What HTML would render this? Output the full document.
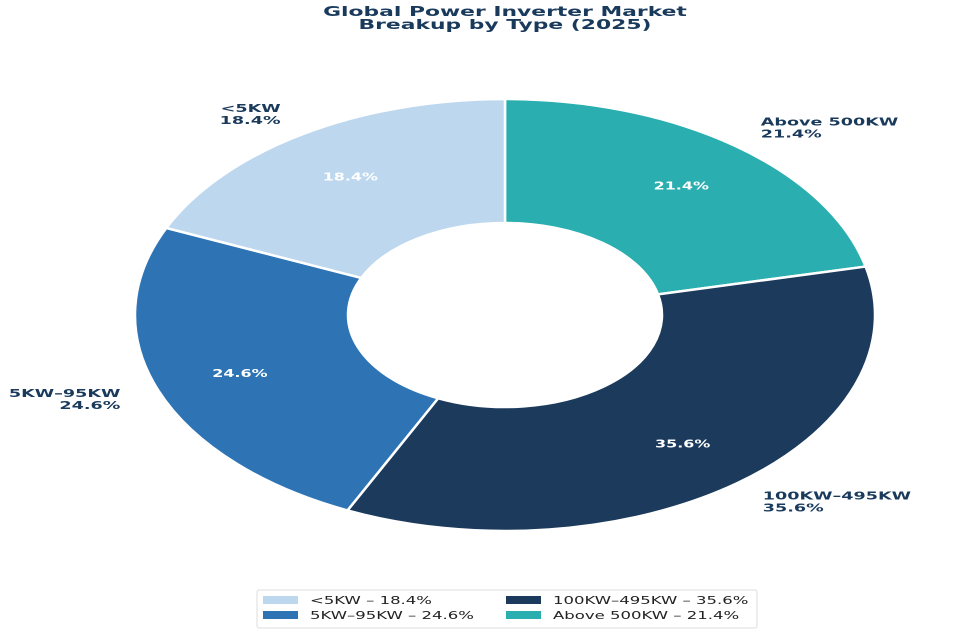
<!DOCTYPE html>
<html><head><meta charset="utf-8"><style>
html,body{margin:0;padding:0;background:#fff;}
svg{display:block;font-family:"DejaVu Sans","Liberation Sans",sans-serif;}
</style></head><body>
<svg id="chart" width="980" height="631" viewBox="0 0 980 631">
<g fill="#1a3a5c" font-weight="bold" font-size="13" text-anchor="middle">
<text transform="translate(505,16) scale(1.68,1)">Global Power Inverter Market</text>
<text transform="translate(505,29) scale(1.68,1)">Breakup by Type (2025)</text>
</g>
<g id="slices"></g>
<g id="labels"></g>
<rect x="257" y="590" width="500" height="38" fill="#fff" stroke="#ddd" rx="2"/>
<g id="legend"></g>
</svg>
<script>
const categories = ["Above 500KW", "100KW–495KW", "5KW–95KW", "<5KW"];
const values = [21.4, 35.6, 24.6, 18.4];
const colors = ["#2aaeb0", "#1b3a5c", "#2e74b5", "#bdd7ee"];
const legendOrder = [3, 2, 1, 0];
const NS = "http://www.w3.org/2000/svg";
const cx = 505, cy = 315, rx = 370, ry = 216, irx = 157, iry = 92;
const total = values.reduce((a, b) => a + b, 0);
function pt(a, k, r1, r2) { return [cx + r1 * k * Math.sin(a), cy - r2 * k * Math.cos(a)]; }
const sg = document.getElementById('slices'), lg = document.getElementById('labels');
function txt(parent, x, y, s, anchor, fill, size, weight, sx) {
  const t = document.createElementNS(NS, 'text');
  t.setAttribute('transform', `translate(${x},${y}) scale(${sx},1)`);
  t.setAttribute('text-anchor', anchor); t.setAttribute('fill', fill);
  t.setAttribute('font-size', size); t.setAttribute('font-weight', weight);
  t.textContent = s; parent.appendChild(t); return t;
}
let acc = 0;
values.forEach((v, i) => {
  const a0 = acc / total * 2 * Math.PI; acc += v;
  const a1 = acc / total * 2 * Math.PI;
  const large = (a1 - a0) > Math.PI ? 1 : 0;
  const p0 = pt(a0, 1, rx, ry), p1 = pt(a1, 1, rx, ry), q1 = pt(a1, 1, irx, iry), q0 = pt(a0, 1, irx, iry);
  const p = document.createElementNS(NS, 'path');
  p.setAttribute('d', `M${p0}A${rx},${ry} 0 ${large} 1 ${p1}L${q1}A${irx},${iry} 0 ${large} 0 ${q0}Z`);
  p.setAttribute('fill', colors[i]); p.setAttribute('stroke', '#fff'); p.setAttribute('stroke-width', '2.5');
  
  
  sg.appendChild(p);
  const am = (a0 + a1) / 2;
  const ip = pt(am, 0.765, rx, ry);
  const t1 = txt(lg, ip[0], ip[1] + 4, v.toFixed(1) + '%', 'middle', '#fff', 11, 'bold', 1.45);
  
  
  const op = pt(am, 1.11, rx, ry);
  const anc = Math.sin(am) >= 0 ? 'start' : 'end';
  const t2 = txt(lg, op[0], op[1] - 2, categories[i], anc, '#1a3a5c', 11, 'bold', 1.6);
  
  
  const t3 = txt(lg, op[0], op[1] + 10, v.toFixed(1) + '%', anc, '#1a3a5c', 11, 'bold', 1.6);
  
  
});
const leg = document.getElementById('legend');
legendOrder.forEach((i, n) => {
  const col = Math.floor(n / 2), row = n % 2;
  const x = 263 + col * 243, y = 596 + row * 15;
  const r = document.createElementNS(NS, 'rect');
  r.setAttribute('x', x); r.setAttribute('y', y); r.setAttribute('width', 35); r.setAttribute('height', 8);
  r.setAttribute('fill', colors[i]);
  
  
  leg.appendChild(r);
  const t = txt(leg, x + 47, y + 8, categories[i] + ' – ' + values[i].toFixed(1) + '%', 'start', '#222', 11, 'normal', 1.5);
  
  
});
</script>
</body></html>
